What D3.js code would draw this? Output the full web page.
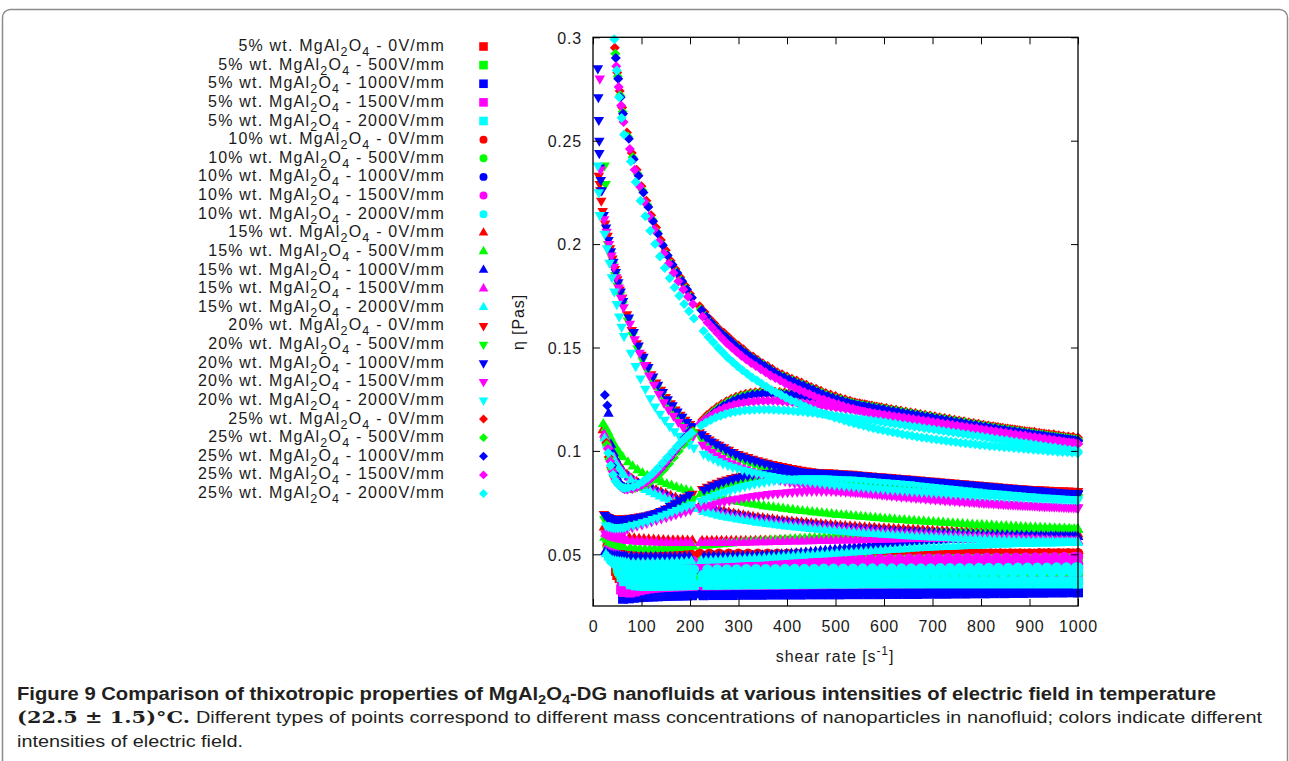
<!DOCTYPE html>
<html>
<head>
<meta charset="utf-8">
<title>Thixotropy of MgAl2O4-DG nanofluids</title>
<script src="https://cdn.jsdelivr.net/npm/d3@7"></script>
<style>
  html, body { margin: 0; padding: 0; background: #fff; }
  svg { display: block; }
  .plotfont { font-family: "Liberation Sans", Arial, Helvetica, sans-serif; fill: #1a1a1a; }
  .caption { font-family: "Liberation Sans Narrow", "Liberation Sans", Arial, sans-serif; fill: #231f20; }
  text { white-space: pre; }
</style>
</head>
<body>
<svg id="figure" width="1289" height="761" xmlns="http://www.w3.org/2000/svg"></svg>
<script>
const _ = null; // no reading at this shear rate

// Shear rates [1/s] logged by the rheometer; one row per field strength (0 ... 2000 V/mm).
// Below 210 1/s every run shares the same logging pattern; above it runs were logged
// either every 20 1/s (coarse) or every 10 1/s (fine).
const lowRateUp = [
  [20,25,30,35,40,45,50,55,60, 70,80,90,100,110,120,130,140,150,160,170,180,190,200],
  [21,26,31,36,41,46,51,56,61, 72,82,92,102,112,122,132,142,152,162,172,182,192,202],
  [22,27,32,37,42,47,52,57,62, 74,84,94,104,114,124,134,144,154,164,174,184,194,204],
  [23,28,33,38,43,48,53,58,63, 76,86,96,106,116,126,136,146,156,166,176,186,196,206],
  [24,29,34,39,44,49,54,59,64, 78,88,98,108,118,128,138,148,158,168,178,188,198,208]
];
const lowRateDown = [
  [22.5,27.5,32.5,37.5,42.5,47.5,52.5,57.5,62.5, 75,85,95,105,115,125,135,145,155,165,175,185,195,205],
  [23.5,28.5,33.5,38.5,43.5,48.5,53.5,58.5,63.5, 77,87,97,107,117,127,137,147,157,167,177,187,197,207],
  [24.5,29.5,34.5,39.5,44.5,49.5,54.5,59.5,64.5, 69,79,89,99,109,119,129,139,149,159,169,179,189,199],
  [25.5,30.5,35.5,40.5,45.5,50.5,55.5,60.5,65.5, 71,81,91,101,111,121,131,141,151,161,171,181,191,201],
  [26.5,31.5,36.5,41.5,46.5,51.5,56.5,61.5,66.5, 73,83,93,103,113,123,133,143,153,163,173,183,193,203]
];
const highRateUpCoarse = [
  [220,240,260,280,300,320,340,360,380,400,420,440,460,480,500,520,540,560,580,600,620,640,660,680,700,720,740,760,780,800,820,840,860,880,900,920,940,960,980,1000],
  [224,244,264,284,304,324,344,364,384,404,424,444,464,484,504,524,544,564,584,604,624,644,664,684,704,724,744,764,784,804,824,844,864,884,904,924,944,964,984,1000],
  [228,248,268,288,308,328,348,368,388,408,428,448,468,488,508,528,548,568,588,608,628,648,668,688,708,728,748,768,788,808,828,848,868,888,908,928,948,968,988,1000],
  [232,252,272,292,312,332,352,372,392,412,432,452,472,492,512,532,552,572,592,612,632,652,672,692,712,732,752,772,792,812,832,852,872,892,912,932,952,972,992,1000],
  [236,256,276,296,316,336,356,376,396,416,436,456,476,496,516,536,556,576,596,616,636,656,676,696,716,736,756,776,796,816,836,856,876,896,916,936,956,976,996,1000]
];
const highRateDownCoarse = [
  [230,250,270,290,310,330,350,370,390,410,430,450,470,490,510,530,550,570,590,610,630,650,670,690,710,730,750,770,790,810,830,850,870,890,910,930,950,970,990,1000],
  [234,254,274,294,314,334,354,374,394,414,434,454,474,494,514,534,554,574,594,614,634,654,674,694,714,734,754,774,794,814,834,854,874,894,914,934,954,974,994,1000],
  [218,238,258,278,298,318,338,358,378,398,418,438,458,478,498,518,538,558,578,598,618,638,658,678,698,718,738,758,778,798,818,838,858,878,898,918,938,958,978,1000],
  [222,242,262,282,302,322,342,362,382,402,422,442,462,482,502,522,542,562,582,602,622,642,662,682,702,722,742,762,782,802,822,842,862,882,902,922,942,962,982,1000],
  [226,246,266,286,306,326,346,366,386,406,426,446,466,486,506,526,546,566,586,606,626,646,666,686,706,726,746,766,786,806,826,846,866,886,906,926,946,966,986,1000]
];
const highRateUpFine = [
  [220,230,240,250,260,270,280,290,300,310, 320,330,340,350,360,370,380,390,400,410, 420,430,440,450,460,470,480,490,500,510,
   520,530,540,550,560,570,580,590,600,610, 620,630,640,650,660,670,680,690,700,710, 720,730,740,750,760,770,780,790,800,810,
   820,830,840,850,860,870,880,890,900,910, 920,930,940,950,960,970,980,990,1000],
  [222,232,242,252,262,272,282,292,302,312, 322,332,342,352,362,372,382,392,402,412, 422,432,442,452,462,472,482,492,502,512,
   522,532,542,552,562,572,582,592,602,612, 622,632,642,652,662,672,682,692,702,712, 722,732,742,752,762,772,782,792,802,812,
   822,832,842,852,862,872,882,892,902,912, 922,932,942,952,962,972,982,992,1000],
  [224,234,244,254,264,274,284,294,304,314, 324,334,344,354,364,374,384,394,404,414, 424,434,444,454,464,474,484,494,504,514,
   524,534,544,554,564,574,584,594,604,614, 624,634,644,654,664,674,684,694,704,714, 724,734,744,754,764,774,784,794,804,814,
   824,834,844,854,864,874,884,894,904,914, 924,934,944,954,964,974,984,994,1000],
  [226,236,246,256,266,276,286,296,306,316, 326,336,346,356,366,376,386,396,406,416, 426,436,446,456,466,476,486,496,506,516,
   526,536,546,556,566,576,586,596,606,616, 626,636,646,656,666,676,686,696,706,716, 726,736,746,756,766,776,786,796,806,816,
   826,836,846,856,866,876,886,896,906,916, 926,936,946,956,966,976,986,996,1000],
  [228,238,248,258,268,278,288,298,308,318, 328,338,348,358,368,378,388,398,408,418, 428,438,448,458,468,478,488,498,508,518,
   528,538,548,558,568,578,588,598,608,618, 628,638,648,658,668,678,688,698,708,718, 728,738,748,758,768,778,788,798,808,818,
   828,838,848,858,868,878,888,898,908,918, 928,938,948,958,968,978,988,998,1000]
];
const highRateDownFine = [
  [225,235,245,255,265,275,285,295,305,315, 325,335,345,355,365,375,385,395,405,415, 425,435,445,455,465,475,485,495,505,515,
   525,535,545,555,565,575,585,595,605,615, 625,635,645,655,665,675,685,695,705,715, 725,735,745,755,765,775,785,795,805,815,
   825,835,845,855,865,875,885,895,905,915, 925,935,945,955,965,975,985,995,1000],
  [227,237,247,257,267,277,287,297,307,317, 327,337,347,357,367,377,387,397,407,417, 427,437,447,457,467,477,487,497,507,517,
   527,537,547,557,567,577,587,597,607,617, 627,637,647,657,667,677,687,697,707,717, 727,737,747,757,767,777,787,797,807,817,
   827,837,847,857,867,877,887,897,907,917, 927,937,947,957,967,977,987,997,1000],
  [229,239,249,259,269,279,289,299,309,319, 329,339,349,359,369,379,389,399,409,419, 429,439,449,459,469,479,489,499,509,519,
   529,539,549,559,569,579,589,599,609,619, 629,639,649,659,669,679,689,699,709,719, 729,739,749,759,769,779,789,799,809,819,
   829,839,849,859,869,879,889,899,909,919, 929,939,949,959,969,979,989,999,1000],
  [221,231,241,251,261,271,281,291,301,311, 321,331,341,351,361,371,381,391,401,411, 421,431,441,451,461,471,481,491,501,511,
   521,531,541,551,561,571,581,591,601,611, 621,631,641,651,661,671,681,691,701,711, 721,731,741,751,761,771,781,791,801,811,
   821,831,841,851,861,871,881,891,901,911, 921,931,941,951,961,971,981,991,1000],
  [223,233,243,253,263,273,283,293,303,313, 323,333,343,353,363,373,383,393,403,413, 423,433,443,453,463,473,483,493,503,513,
   523,533,543,553,563,573,583,593,603,613, 623,633,643,653,663,673,683,693,703,713, 723,733,743,753,763,773,783,793,803,813,
   823,833,843,853,863,873,883,893,903,913, 923,933,943,953,963,973,983,993,1000]
];

const concentrations = ["5%", "10%", "15%", "20%", "25%"];
const fieldStrengths = ["0V/mm", "500V/mm", "1000V/mm", "1500V/mm", "2000V/mm"];
const fieldColors = ["#ff0000", "#00ff00", "#0000ff", "#ff00ff", "#00ffff"];

const xTicks = [0,100,200,300,400,500,600,700,800,900,1000];
const xTickLabels = ["0","100","200","300","400","500","600","700","800","900","1000"];
const yTicks = [0.05,0.1,0.15,0.2,0.25,0.3];
const yTickLabels = ["0.05","0.1","0.15","0.2","0.25","0.3"];

// Viscosity readings in mPa·s, one row per field strength, matching the shear rate rows
const rampUp5 = [
  [_,_,_,_,_,_,40,38.5,37.5, 36.8,36.4,36.2,36.1,36.1,36.1,36.1,36.2,36.2,36.3,36.3,36.4,36.4,36.5,
   36.5,36.6,36.6,36.7,36.7,36.8,36.8,36.9,36.9,37, 37,37.1,37.1,37.2,37.2,37.3,37.3,37.4,37.4,37.5,
   37.5,37.6,37.6,37.7,37.7,37.8,37.8,37.9,37.9,38, 38,38.1,38.1,38.2,38.2,38.3,38.3,38.4,38.4,38.5],
  [_,_,_,_,_,_,43,41,40, 39.5,39.3,39.2,39.1,39.2,39.3,39.2,39.1,39.2,39.3,39.2,39.1,39.2,39.3,
   39.2,39.1,39.2,39.3,39.2,39.1,39.2,39.3,39.2,39.1, 39.2,39.3,39.2,39.1,39.2,39.3,39.2,39.1,39.2,39.1,
   39.1,39,39,38.9,38.9,38.9,38.8,38.8,38.8,38.8, 38.8,38.8,38.8,38.8,38.8,38.8,38.8,38.8,38.8,38.8],
  [_,_,_,_,_,_,_,_,28.5, 28.7,29,29.2,29.4,29.5,29.6,29.7,29.8,29.9,30,30,30.1,30.1,30.2,
   30.2,30.3,30.3,30.3,30.4,30.4,30.4,30.5,30.5,30.5, 30.5,30.6,30.6,30.6,30.6,30.7,30.7,30.7,30.7,30.8,
   30.8,30.8,30.8,30.9,30.9,30.9,31,31,31.1,31.1, 31.2,31.2,31.3,31.3,31.4,31.4,31.5,31.5,31.6,31.6],
  [_,_,_,_,_,_,_,33,31.8, 31.5,32,32.6,33.1,33.5,33.8,34,34.2,34.3,34.4,34.5,34.6,34.7,34.8,
   34.9,35,35,35.1,35.1,35.2,35.2,35.3,35.3,35.4, 35.4,35.5,35.5,35.6,35.6,35.7,35.7,35.8,35.8,35.9,
   35.9,36,36,36.1,36.1,36.2,36.2,36.3,36.3,36.4, 36.4,36.5,36.5,36.6,36.6,36.7,36.7,36.8,36.8,36.9],
  [_,_,_,_,_,_,42,39,37, 35.5,35,34.8,34.7,34.7,34.7,34.8,34.8,34.9,34.9,35,35,35.1,35.1,
   35.2,35.2,35.3,35.3,35.4,35.4,35.5,35.5,35.6,35.6, 35.7,35.7,35.8,35.8,35.8,35.8,35.9,35.9,35.9,35.9,
   35.9,35.9,35.9,35.9,35.9,35.9,35.9,35.9,35.9,35.9, 35.9,35.9,35.9,35.9,35.9,35.9,35.9,35.9,35.9,35.9]
];
const rampDown5 = [
  [_,_,_,_,_,42,40,38.8,38, 37.5,37.2,37.1,37.1,37.1,37.1,37.2,37.2,37.3,37.3,37.4,37.4,37.5,37.5,
   37.6,37.6,37.7,37.7,37.8,37.8,37.9,37.9,38,38, 38.1,38.1,38.2,38.2,38.3,38.3,38.4,38.4,38.5,38.5,
   38.6,38.6,38.7,38.7,38.8,38.8,38.9,38.9,39,39, 39.1,39.1,39.2,39.2,39.3,39.3,39.4,39.4,39.5,39.5],
  [_,_,_,_,_,_,42,40.5,39.5, 39,38.8,38.7,38.6,38.6,38.5,38.6,38.7,38.6,38.5,38.6,38.7,38.6,38.5,
   38.6,38.7,38.6,38.5,38.6,38.7,38.6,38.5,38.6,38.7, 38.6,38.5,38.6,38.7,38.6,38.5,38.6,38.7,38.6,38.5,
   38.6,38.6,38.6,38.6,38.6,38.6,38.6,38.6,38.6,38.6, 38.6,38.6,38.6,38.6,38.6,38.6,38.6,38.6,38.6,38.6],
  [_,_,_,_,_,_,_,_,29.4, 29.6,29.9,30.1,30.3,30.4,30.5,30.6,30.7,30.8,30.9,30.9,31,31,31.1,
   31.1,31.2,31.2,31.2,31.3,31.3,31.3,31.4,31.4,31.4, 31.4,31.5,31.5,31.5,31.5,31.6,31.6,31.6,31.6,31.7,
   31.7,31.7,31.7,31.8,31.8,31.8,31.9,31.9,32,32, 32.1,32.1,32.2,32.2,32.3,32.3,32.4,32.4,32.5,32.5],
  [_,_,_,_,_,_,_,34.5,32.8, 32.2,32.6,33,33.4,33.8,34.1,34.3,34.5,34.6,34.7,34.8,34.9,35,35.1,
   35.2,35.3,35.3,35.4,35.4,35.5,35.5,35.6,35.6,35.7, 35.7,35.8,35.8,35.9,35.9,36,36,36.1,36.1,36.2,
   36.2,36.3,36.3,36.4,36.4,36.5,36.5,36.6,36.6,36.7, 36.7,36.8,36.8,36.9,36.9,36.9,36.9,36.9,36.9,36.9],
  [_,_,_,_,_,44,41.5,39.5,38, 37,36.6,36.4,36.3,36.3,36.3,36.3,36.4,36.4,36.4,36.5,36.5,36.5,36.6,
   36.6,36.6,36.6,36.7,36.7,36.7,36.7,36.8,36.8,36.8, 36.8,36.9,36.9,36.9,36.9,36.9,36.9,36.9,36.9,36.9,
   36.9,36.9,36.9,36.9,36.9,36.9,36.9,36.9,36.9,36.9, 36.9,36.9,36.9,36.9,36.9,36.9,36.9,36.9,36.9,36.9]
];

const rampUp10 = [
  [_,_,54,53.3,52.7,52.3,52,51.7,51.5, 51.2,51,50.8,50.7,50.6,50.5,50.5,50.4,50.4,50.4,50.4,50.4,50.4,50.4,
   50.3,50.3,50.3,50.3,50.3,50.3,50.3,50.3,50.3,50.3, 50.3,50.3,50.3,50.3,50.3,50.3,50.4,50.4,50.4,50.4,
   50.4,50.4,50.4,50.4,50.4,50.4,50.4,50.4,50.4,50.4, 50.4,50.4,50.4,50.4,50.4,50.5,50.5,50.5,50.5,50.5],
  [_,_,53,52,51,50.2,49.6,49.1,48.7, 48.1,47.7,47.4,47.2,47,46.9,46.8,46.7,46.7,46.7,46.7,46.7,46.7,46.7,
   46.7,46.7,46.8,46.8,46.8,46.9,46.9,46.9,47,47, 47,47.1,47.1,47.1,47.2,47.2,47.2,47.3,47.3,47.3,
   47.4,47.4,47.4,47.5,47.5,47.5,47.6,47.6,47.6,47.7, 47.7,47.7,47.8,47.8,47.8,47.9,47.9,47.9,48,48],
  [_,_,51,49.8,48.8,48,47.3,46.7,46.2, 45.5,45,44.7,44.5,44.3,44.2,44.1,44,44,44,44,44,44,44,
   44,44,44,44,44.1,44.1,44.1,44.1,44.2,44.2, 44.2,44.2,44.3,44.3,44.3,44.3,44.4,44.4,44.4,44.4,
   44.5,44.5,44.5,44.5,44.6,44.6,44.6,44.6,44.7,44.7, 44.7,44.7,44.8,44.8,44.8,44.8,44.9,44.9,44.9,44.9],
  [_,_,53,51.8,50.8,50,49.3,48.8,48.4, 47.8,47.4,47.2,47,46.9,46.8,46.8,46.8,46.8,46.8,46.8,46.8,46.8,46.8,
   46.8,46.9,46.9,47,47,47.1,47.1,47.2,47.2,47.3, 47.3,47.4,47.4,47.5,47.5,47.6,47.6,47.7,47.7,47.8,
   47.8,47.9,47.9,48,48,48.1,48.1,48.2,48.2,48.3, 48.3,48.4,48.4,48.5,48.5,48.6,48.6,48.7,48.7,48.8],
  [_,_,49.2,48.1,47.2,46.4,45.8,45.3,44.9, 44.2,43.7,43.4,43.2,43,42.9,42.8,42.7,42.7,42.7,42.7,42.7,42.7,42.7,
   42.7,42.7,42.7,42.7,42.8,42.8,42.8,42.8,42.9,42.9, 42.9,42.9,43,43,43,43,43.1,43.1,43.1,43.1,
   43.2,43.2,43.2,43.2,43.3,43.3,43.3,43.3,43.4,43.4, 43.4,43.4,43.5,43.5,43.5,43.5,43.6,43.6,43.6,43.6]
];
const rampDown10 = [
  [_,_,52.2,51.6,51.1,50.7,50.4,50.1,49.9, 49.6,49.4,49.3,49.2,49.1,49.1,49.1,49.1,49.1,49.1,49.1,49.1,49.2,49.2,
   49.2,49.3,49.3,49.4,49.4,49.5,49.5,49.6,49.6,49.7, 49.7,49.8,49.8,49.9,49.9,50,50,50,50.1,50.1,
   50.1,50.1,50.2,50.2,50.2,50.2,50.2,50.3,50.3,50.3, 50.3,50.3,50.3,50.3,50.3,50.4,50.4,50.4,50.4,50.4],
  [_,_,51,50,49.2,48.5,47.9,47.4,47, 46.4,46,45.7,45.5,45.3,45.2,45.1,45,45,45,45,45,45,45,
   45,45,45,45.1,45.1,45.1,45.2,45.2,45.2,45.3, 45.3,45.3,45.4,45.4,45.4,45.5,45.5,45.5,45.6,45.6,
   45.6,45.7,45.7,45.7,45.8,45.8,45.8,45.9,45.9,45.9, 46,46,46,46.1,46.1,46.1,46.2,46.2,46.2,46.3],
  [_,_,49.2,48.2,47.4,46.7,46.1,45.6,45.2, 44.5,44,43.7,43.5,43.3,43.2,43.1,43,43,43,43,43,43,43,
   43,43,43,43,43.1,43.1,43.1,43.1,43.2,43.2, 43.2,43.2,43.3,43.3,43.3,43.3,43.4,43.4,43.4,43.4,
   43.5,43.5,43.5,43.5,43.6,43.6,43.6,43.6,43.7,43.7, 43.7,43.7,43.8,43.8,43.8,43.8,43.9,43.9,43.9,43.9],
  [_,_,50.2,49.2,48.4,47.7,47.1,46.6,46.2, 45.6,45.2,44.9,44.7,44.6,44.5,44.4,44.4,44.4,44.4,44.4,44.4,44.4,44.4,
   44.4,44.4,44.4,44.4,44.5,44.5,44.5,44.5,44.6,44.6, 44.6,44.6,44.7,44.7,44.7,44.7,44.8,44.8,44.8,44.8,
   44.9,44.9,44.9,44.9,45,45,45,45,45.1,45.1, 45.1,45.1,45.2,45.2,45.2,45.2,45.3,45.3,45.3,45.3],
  [_,_,47.2,46.1,45.2,44.4,43.7,43.1,42.6, 41.8,41.2,40.8,40.5,40.3,40.1,40,39.9,39.9,39.9,39.9,39.9,39.9,39.9,
   39.9,39.9,40,40,40,40.1,40.1,40.1,40.2,40.2, 40.2,40.3,40.3,40.3,40.4,40.4,40.4,40.5,40.5,40.5,
   40.6,40.6,40.7,40.7,40.8,40.8,40.9,40.9,41,41, 41.1,41.1,41.2,41.2,41.3,41.3,41.4,41.4,41.5,41.5]
];

const rampUp15 = [
  [110,107,104,101,98.5,96.2,94.2,92.5,91, 88.5,86.5,85,83.8,82.8,81.9,81,80.1,79.2,78.3,77.4,76.6,75.8,75,
   73.6,72.9,72.3,71.7,71.2,70.7,70.2,69.7,69.3,68.9, 68.5,68.1,67.8,67.5,67.2,66.9,66.6,66.3,66.1,65.8,
   65.6,65.4,65.2,65,64.8,64.6,64.4,64.2,64,63.8, 63.7,63.5,63.4,63.2,63.1,62.9,62.8,62.6,62.5,62.4,
   62.3,62.2,62.1,62,61.9,61.8,61.7,61.6,61.5,61.4, 61.3,61.2,61.1,61,60.9,60.85,60.8,60.75,60.7,60.65,
   60.6,60.55,60.5,60.45,60.4,60.35,60.3,60.25,60.2,60.15, 60.1,60.05,60,59.95,59.9,59.85,59.8,59.75, 59.7],
  [113,111,109,106.5,104,102,100,98.5,97, 94.5,92.5,90.7,89.3,88,86.8,85.8,84.8,84,83.2,82.4,81.7,81,80.4,
   79.2,78.6,78.1,77.6,77.1,76.6,76.2,75.7,75.3,74.9, 74.5,74.1,73.7,73.3,73,72.7,72.4,72.1,71.8,71.5,
   71.2,70.9,70.7,70.4,70.2,69.9,69.7,69.4,69.2,69, 68.8,68.6,68.4,68.2,68,67.8,67.6,67.4,67.2,67,
   66.8,66.6,66.5,66.3,66.2,66,65.9,65.7,65.6,65.4, 65.3,65.1,65,64.8,64.7,64.5,64.4,64.3,64.2,64.1,
   64,63.8,63.7,63.6,63.5,63.4,63.3,63.2,63.1,63, 62.9,62.8,62.7,62.6,62.5,62.4,62.3,62.2, 62.1],
  [_,_,118,103,99,96,93.5,91.5,90, 87.5,85.5,84.2,83,82,81,80,79,78,77,76.1,75.3,74.5,73.8,
   72.5,71.9,71.3,70.7,70.2,69.7,69.2,68.8,68.4,68, 67.6,67.2,66.9,66.6,66.3,66,65.7,65.4,65.2,64.9,
   64.7,64.4,64.2,64,63.8,63.6,63.4,63.2,63,62.8, 62.6,62.4,62.3,62.1,62,61.8,61.7,61.5,61.4,61.2,
   61.1,61,60.9,60.8,60.7,60.6,60.5,60.4,60.3,60.2, 60.1,60,59.9,59.8,59.7,59.6,59.5,59.45,59.4,59.35,
   59.3,59.25,59.2,59.15,59.1,59.05,59,58.95,58.9,58.85, 58.8,58.75,58.7,58.65,58.6,58.55,58.5,58.45, 58.4],
  [108,105,102,99,96.5,94.3,92.4,90.8,89.4, 87,85,83.5,82.2,81.1,80.1,79.1,78.1,77.1,76.2,75.3,74.5,73.7,73,
   71.6,71,70.4,69.8,69.3,68.8,68.3,67.9,67.5,67.1, 66.7,66.3,66,65.7,65.4,65.1,64.8,64.5,64.3,64,
   63.8,63.5,63.3,63.1,62.9,62.7,62.5,62.3,62.1,61.9, 61.7,61.5,61.4,61.2,61.1,60.9,60.8,60.6,60.5,60.3,
   60.2,60,59.9,59.8,59.7,59.6,59.5,59.4,59.3,59.2, 59.1,59,58.9,58.8,58.7,58.6,58.5,58.4,58.3,58.2,
   58.1,58,57.9,57.8,57.7,57.6,57.5,57.4,57.3,57.2, 57.1,57,56.9,56.8,56.7,56.6,56.5,56.4, 56.3],
  [106,103,100,97.5,95,93,91.2,89.6,88.2, 85.8,83.9,82.4,81.1,80,79,78,77,76,75.1,74.2,73.4,72.6,71.9,
   70.5,69.9,69.3,68.7,68.2,67.7,67.3,66.9,66.5,66.1, 65.7,65.3,65,64.7,64.4,64.1,63.8,63.5,63.3,63,
   62.8,62.5,62.3,62.1,61.9,61.7,61.5,61.3,61.1,60.9, 60.7,60.5,60.3,60.1,60,59.8,59.7,59.5,59.4,59.2,
   59.1,58.9,58.8,58.6,58.5,58.4,58.3,58.2,58.1,58, 57.9,57.8,57.7,57.6,57.5,57.4,57.3,57.2,57.1,57,
   56.9,56.8,56.7,56.6,56.5,56.4,56.3,56.25,56.2,56.15, 56.1,56.05,56,55.95,55.9,55.85,55.8,55.75, 55.7]
];
const rampDown15 = [
  [63,62,61,60.2,59.6,59.1,58.7,58.4,58.2, 57.9,57.7,57.5,57.3,57.2,57.1,57,56.9,56.8,56.8,56.7,56.7,56.6,56.6,
   56.5,56.5,56.5,56.5,56.5,56.5,56.5,56.5,56.5,56.5, 56.5,56.5,56.6,56.6,56.6,56.6,56.7,56.7,56.7,56.7,
   56.8,56.85,56.9,56.95,57,57.05,57.1,57.15,57.2,57.25, 57.3,57.35,57.4,57.45,57.5,57.55,57.6,57.65,57.7,57.75,
   57.8,57.85,57.9,57.95,58,58.05,58.1,58.15,58.2,58.25, 58.3,58.35,58.4,58.45,58.5,58.55,58.6,58.65,58.7,58.75,
   58.8,58.85,58.9,58.95,59,59.05,59.1,59.15,59.2,59.25, 59.3,59.35,59.4,59.45,59.5,59.55,59.6,59.65, 59.7],
  [58,57,56,55.3,54.8,54.4,54,53.7,53.5, 53.1,52.8,52.6,52.5,52.5,52.5,52.6,52.7,52.8,53,53.1,53.3,53.5,53.7,
   54.1,54.3,54.5,54.7,54.9,55.1,55.3,55.5,55.7,55.85, 56,56.15,56.3,56.45,56.6,56.75,56.9,57.05,57.2,57.35,
   57.5,57.65,57.8,57.9,58,58.1,58.2,58.3,58.4,58.5, 58.6,58.7,58.8,58.9,59,59.1,59.2,59.25,59.3,59.4,
   59.5,59.55,59.6,59.7,59.8,59.85,59.9,60,60.1,60.15, 60.2,60.25,60.3,60.4,60.5,60.55,60.6,60.65,60.7,60.75,
   60.8,60.9,61,61.05,61.1,61.15,61.2,61.25,61.3,61.35, 61.4,61.45,61.5,61.55,61.6,61.65,61.7,61.75, 61.8],
  [51,50.3,49.8,49.5,49.3,49.2,49.1,49,49, 48.9,48.9,48.8,48.8,48.8,48.8,48.8,48.8,48.8,48.8,48.8,48.8,48.9,48.9,
   48.9,48.95,49,49,49,49.05,49.1,49.15,49.2,49.25, 49.3,49.4,49.5,49.6,49.7,49.85,50,50.15,50.3,50.5,
   50.7,50.9,51.1,51.3,51.5,51.75,52,52.25,52.5,52.75, 53,53.25,53.5,53.75,54,54.25,54.5,54.7,54.9,55.1,
   55.3,55.5,55.7,55.85,56,56.15,56.3,56.45,56.6,56.75, 56.9,57,57.1,57.2,57.3,57.4,57.5,57.55,57.6,57.65,
   57.7,57.75,57.8,57.85,57.9,57.95,58,58.05,58.1,58.15, 58.2,58.25,58.3,58.3,58.3,58.35,58.4,58.4, 58.4],
  [60,59.3,58.7,58.2,57.8,57.5,57.2,57,56.8, 56.5,56.3,56.1,56,55.9,55.8,55.7,55.6,55.6,55.5,55.5,55.5,55.5,55.5,
   55.5,55.5,55.5,55.5,55.5,55.55,55.6,55.6,55.6,55.65, 55.7,55.75,55.8,55.85,55.9,55.95,56,56.05,56.1,56.15,
   56.2,56.25,56.3,56.35,56.4,56.45,56.5,56.55,56.6,56.65, 56.7,56.75,56.8,56.85,56.9,56.95,57,57.05,57.1,57.15,
   57.2,57.25,57.3,57.35,57.4,57.4,57.4,57.4,57.4,57.4, 57.4,57.35,57.3,57.25,57.2,57.15,57.1,57.05,57,56.95,
   56.9,56.85,56.8,56.75,56.7,56.65,56.6,56.55,56.5,56.45, 56.4,56.35,56.3,56.25,56.2,56.2,56.2,56.2, 56.2],
  [50,48.5,47.5,47,46.7,46.5,46.3,46.2,46.1, 46,45.9,45.9,45.9,45.9,46,46,46.1,46.1,46.2,46.3,46.4,46.5,46.6,
   46.8,46.9,47,47.1,47.2,47.3,47.4,47.5,47.6,47.7, 47.8,47.9,48,48.15,48.3,48.45,48.6,48.75,48.9,49.05,
   49.2,49.35,49.5,49.65,49.8,49.95,50.1,50.25,50.4,50.55, 50.7,50.85,51,51.15,51.3,51.45,51.6,51.75,51.9,52.05,
   52.2,52.35,52.5,52.65,52.8,52.95,53.1,53.2,53.3,53.4, 53.5,53.6,53.7,53.8,53.9,54,54.1,54.2,54.3,54.4,
   54.5,54.6,54.7,54.8,54.9,54.95,55,55.05,55.1,55.15, 55.2,55.25,55.3,55.35,55.4,55.45,55.5,55.55, 55.6]
];

// First readings of the 20% runs, logged below 20 1/s: [shear rate, viscosity mPa·s]
const startUp20 = [
  [[12,233],[14,229],[15,226],[17,221]],
  [[24,238],[26,229]],
  [[10,285],[11,271],[12,260],[13,250],[13,244],[14,237],[16,231],[18,226]],
  [[14,280],[16,236]],
  [[10,238],[12,225],[14,214]]
];
const rampUp20 = [
  [216,210,204,198,193,188,183,178,174, 166,158.5,152,146.5,141.5,137,133,129.5,126,123,120,117.5,115,113,
   109,107.2,105.5,104.2,103,101.7,100.5,99.5,98.5,97.7, 97,96.2,95.5,94.9,94.3,93.7,93.2,92.7,92.2,91.7,
   91.3,90.9,90.5,90.1,89.8,89.4,89.1,88.8,88.5,88.2, 87.9,87.6,87.4,87.1,86.9,86.6,86.4,86.2,86,85.8,
   85.6,85.4,85.2,85,84.8,84.6,84.4,84.2,84.1,83.9, 83.8,83.6,83.5,83.3,83.2,83,82.9,82.7,82.6,82.5,
   82.4,82.3,82.2,82.1,82,81.9,81.8,81.7,81.6,81.5, 81.4,81.3,81.2,81.1,81,80.9,80.8,80.7, 80.6],
  [_,_,200,195,190,185,180,175.5,171, 163,156,149.5,144,139,134.5,130.5,127,123.5,120.5,117.5,115,112.5,110.5,
   106.5,104.7,103,101.6,100.3,99.1,98,97,96,95.1, 94.3,93.5,92.8,92.1,91.5,90.9,90.4,89.9,89.4,88.9,
   88.5,88.1,87.7,87.3,87,86.6,86.3,86,85.7,85.4, 85.1,84.8,84.6,84.3,84.1,83.8,83.6,83.4,83.2,83,
   82.8,82.6,82.4,82.2,82,81.8,81.6,81.4,81.3,81.1, 81,80.8,80.7,80.5,80.4,80.2,80.1,79.9,79.8,79.6,
   79.5,79.4,79.3,79.2,79.1,79,78.9,78.8,78.7,78.6, 78.5,78.4,78.3,78.2,78.1,78,77.9,77.8, 77.7],
  [214,208,202,196.5,191.5,186.5,181.5,177,172.5, 164.5,157.5,151,145.5,140.5,136,132,128.5,125,122,119,116.5,114,112,
   108,106.2,104.5,103.2,102,100.7,99.5,98.5,97.5,96.7, 96,95.2,94.5,93.9,93.3,92.7,92.2,91.7,91.2,90.7,
   90.3,89.9,89.5,89.1,88.8,88.4,88.1,87.8,87.5,87.2, 86.9,86.6,86.4,86.1,85.9,85.6,85.4,85.2,85,84.8,
   84.6,84.4,84.2,84,83.8,83.6,83.4,83.2,83.1,82.9, 82.8,82.6,82.5,82.3,82.2,82,81.9,81.7,81.6,81.4,
   81.3,81.1,81,80.8,80.7,80.5,80.4,80.3,80.2,80.1, 80,79.9,79.8,79.7,79.6,79.5,79.4,79.3, 79.2],
  [212,206,200,194.5,189,184,179,174,169.5, 161.5,154,147.5,141.5,136.5,132,127.5,123.5,120,117,114,111.5,109,107,
   103,101.2,99.5,97.9,96.5,95.2,94,93,92,91.1, 90.2,89.4,88.6,87.9,87.2,86.6,86,85.5,85,84.5,
   84.1,83.7,83.3,82.9,82.6,82.2,81.9,81.6,81.3,81, 80.7,80.4,80.1,79.8,79.6,79.3,79.1,78.8,78.6,78.3,
   78.1,77.9,77.7,77.5,77.3,77.1,76.9,76.7,76.5,76.3, 76.1,75.9,75.8,75.6,75.5,75.3,75.2,75,74.9,74.7,
   74.6,74.4,74.3,74.1,74,73.9,73.8,73.7,73.6,73.5, 73.4,73.3,73.2,73.1,73,72.9,72.8,72.7, 72.6],
  [205,198,191,184,177,171,165,160,155.5, 147.5,141,135,130,125.5,121.5,118,115,112,109.5,107.3,105.2,103.3,101.6,
   98.6,97.3,96.1,95,94,93.1,92.3,91.6,90.9,90.3, 89.7,89.2,88.7,88.2,87.8,87.4,87,86.6,86.3,85.9,
   85.6,85.3,85,84.7,84.4,84.1,83.9,83.6,83.4,83.1, 82.9,82.7,82.5,82.3,82.1,81.9,81.7,81.5,81.3,81.1,
   81,80.8,80.6,80.4,80.3,80.1,80,79.8,79.7,79.5, 79.4,79.2,79.1,78.9,78.8,78.6,78.5,78.4,78.3,78.2,
   78.1,78,77.9,77.8,77.7,77.6,77.5,77.4,77.3,77.2, 77.1,77,76.9,76.8,76.7,76.6,76.5,76.4, 76.3]
];
const rampDown20 = [
  [69.5,68.5,68,67.5,67.3,67.2,67.2,67.3,67.4, 67.6,67.9,68.2,68.6,69.1,69.7,70.4,71.3,72.4,73.7,75.1,76.5,77.9,79.2,
   81.6,82.7,83.7,84.6,85.5,86.2,86.9,87.5,88,88.4, 88.8,89.1,89.4,89.6,89.8,89.9,90,90.1,90.1,90.1,
   90.1,90.1,90,89.9,89.8,89.7,89.6,89.5,89.3,89.2, 89,88.9,88.7,88.5,88.3,88.1,87.9,87.7,87.5,87.3,
   87.1,86.9,86.7,86.5,86.3,86.1,85.9,85.7,85.5,85.3, 85.1,84.9,84.7,84.5,84.3,84.1,83.9,83.7,83.5,83.3,
   83.1,82.9,82.7,82.5,82.3,82.1,81.9,81.7,81.5,81.3, 81.1,80.9,80.7,80.5,80.3,80.2,80,79.9, 79.7],
  [67,66.5,66,65.7,65.5,65.4,65.4,65.5,65.6, 65.8,66.1,66.5,67,67.6,68.3,69.1,70,71,72.1,73.3,74.5,75.7,76.9,
   79.1,80.1,81.1,82,82.8,83.5,84.2,84.8,85.3,85.8, 86.2,86.5,86.8,87.1,87.3,87.5,87.6,87.7,87.8,87.9,
   87.9,87.9,87.9,87.9,87.8,87.7,87.6,87.5,87.4,87.3, 87.1,87,86.8,86.7,86.5,86.3,86.1,85.9,85.7,85.5,
   85.3,85.1,84.9,84.7,84.5,84.3,84.1,83.9,83.7,83.5, 83.3,83.1,82.9,82.7,82.5,82.3,82.1,81.9,81.7,81.5,
   81.3,81.1,80.9,80.7,80.5,80.3,80.1,79.9,79.7,79.5, 79.3,79.1,78.9,78.7,78.5,78.3,78.1,77.9, 77.7],
  [69,68,67.5,67,66.8,66.8,66.8,66.9,67, 67.2,67.5,67.8,68.2,68.7,69.3,70,70.9,72,73.3,74.7,76.1,77.5,78.8,
   81.2,82.3,83.3,84.2,85.1,85.8,86.5,87.1,87.6,88, 88.4,88.7,89,89.2,89.4,89.5,89.6,89.7,89.7,89.7,
   89.7,89.7,89.6,89.5,89.4,89.3,89.2,89.1,88.9,88.8, 88.6,88.5,88.3,88.1,87.9,87.7,87.5,87.3,87.1,86.9,
   86.7,86.5,86.3,86.1,85.9,85.7,85.5,85.3,85.1,84.9, 84.7,84.5,84.3,84.1,83.9,83.7,83.5,83.3,83.1,82.9,
   82.7,82.5,82.3,82.1,81.9,81.7,81.5,81.3,81.1,80.9, 80.7,80.5,80.3,80.1,79.9,79.8,79.6,79.5, 79.3],
  [60,59.5,59.5,59.7,60,60.4,60.8,61.2,61.6, 62.4,63.1,63.8,64.5,65.2,65.9,66.6,67.3,68,68.7,69.4,70.1,70.8,71.5,
   72.8,73.4,74,74.6,75.1,75.6,76.1,76.6,77,77.4, 77.8,78.2,78.5,78.8,79.1,79.4,79.6,79.8,80,80.2,
   80.3,80.4,80.5,80.6,80.6,80.6,80.6,80.6,80.5,80.4, 80.3,80.2,80.1,80,79.8,79.7,79.5,79.4,79.2,79,
   78.8,78.6,78.4,78.2,78,77.8,77.6,77.4,77.2,77, 76.8,76.6,76.4,76.2,76,75.8,75.6,75.4,75.2,75,
   74.8,74.7,74.5,74.4,74.2,74.1,73.9,73.8,73.6,73.5, 73.3,73.2,73.1,73,72.9,72.8,72.7,72.65, 72.6],
  [64,63.5,63.2,63,62.9,62.9,63,63.1,63.3, 63.7,64.2,64.8,65.5,66.2,67,67.8,68.7,69.6,70.5,71.4,72.3,73.2,74.1,
   75.9,76.8,77.7,78.6,79.4,80.2,81,81.7,82.4,83, 83.6,84.1,84.6,85,85.4,85.7,86,86.2,86.4,86.5,
   86.6,86.7,86.7,86.7,86.7,86.7,86.6,86.5,86.4,86.3, 86.2,86.1,85.9,85.8,85.6,85.4,85.2,85,84.8,84.6,
   84.4,84.2,84,83.8,83.5,83.3,83,82.8,82.5,82.3, 82,81.8,81.5,81.3,81,80.8,80.5,80.3,80,79.8,
   79.6,79.4,79.2,79,78.8,78.6,78.4,78.2,78,77.8, 77.6,77.5,77.3,77.2,77,76.9,76.7,76.6, 76.4]
];

const rampUp25 = [
  [_,_,_,_,_,295,283,274,266, 254,244,236,228,221,214,208,202,197,192,188,184,180,176,
   170,167.2,164,161.6,159,157.1,155,152.8,151,149.1, 147,145.6,144,142.4,141,139.6,138,137.1,136,134.9,
   134,133.1,132,130.9,130,129.1,128,127.3,126.5,125.6, 125,124.3,123.5,123.1,122.5,121.9,121.5,121.1,120.5,119.9,
   119.5,119.1,118.5,117.9,117.5,117.2,116.7,116.2,116,115.7, 115.2,114.8,114.5,114.2,113.8,113.3,113.1,112.8,112.4,112,
   111.8,111.6,111.2,110.8,110.6,110.4,110,109.6,109.4,109.2, 108.8,108.4,108.2,108,107.6,107.2,107,106.8, 106.5],
  [_,_,_,_,_,292,281,272,264, 252,242,234,226,219,212,206,200,195,190.5,186.5,182.5,178.5,174.5,
   168.5,165.4,162.5,160,157.5,155.6,153.5,151.4,149.5,147.8, 146,144.4,143,141.6,140,138.4,137,136.1,135,134,
   133,132.1,131,130,129,128.1,127,126.2,125.5,124.8, 124,123.3,122.5,122,121.5,121.1,120.5,120,119.5,119,
   118.5,118,117.5,117,116.5,116.1,115.7,115.4,115,114.6, 114.2,113.8,113.5,113.2,112.8,112.4,112.1,111.8,111.4,111.1,
   110.8,110.5,110.2,109.9,109.6,109.3,109,108.7,108.4,108.1, 107.8,107.5,107.2,106.9,106.6,106.3,106,105.7, 105.5],
  [_,_,_,_,_,290,280,271,263, 251,241,233,225,218,211,205,199.5,194.5,190,186,182,178,174,
   168,164.9,162,159.4,157,155.1,153,150.9,149,147.3, 145.5,144.1,142.5,141,139.5,138,136.5,135.6,134.5,133.6,
   132.5,131.6,130.5,129.6,128.5,127.4,126.5,125.7,125,124.3, 123.5,122.7,122,121.5,121,120.5,120,119.5,119,118.5,
   118,117.5,117,116.5,116,115.6,115.2,114.9,114.5,114.1, 113.7,113.4,113,112.6,112.3,112,111.6,111.2,110.9,110.6,
   110.3,110,109.7,109.4,109.1,108.8,108.5,108.2,107.9,107.6, 107.3,107,106.7,106.4,106.1,105.8,105.5,105.2, 105],
  [_,_,_,_,_,286,276,267,259, 246,236,228,220.5,213.5,207,201,195.5,190.5,186,182,178,174.5,171,
   165,162.1,159.5,157,154.5,152.1,150,148,146,144.2, 142.5,141,139.5,138,136.5,135.3,134,132.7,131.5,130.5,
   129.5,128.5,127.5,126.4,125.5,124.8,124,123.2,122.5,121.7, 121,120.4,119.7,119.1,118.5,117.9,117.4,116.9,116.4,115.9,
   115.4,114.9,114.5,114,113.6,113.2,112.8,112.4,112,111.6, 111.3,111,110.6,110.2,109.9,109.6,109.3,109,108.7,108.4,
   108.1,107.8,107.5,107.2,106.9,106.6,106.3,106,105.8,105.5, 105.3,105,104.8,104.5,104.3,104,103.8,103.5, 103.3],
  [_,_,_,_,299,284,271,261,253, 240,230,221,213.5,206.5,200,194,188.5,183.5,179,175,171,167.5,164,
   158,155.1,152.5,149.9,147.5,145.1,143,140.9,139,137.3, 135.5,134,132.5,131,129.5,128.2,127,125.7,124.5,123.5,
   122.5,121.5,120.5,119.5,118.5,117.8,117,116.2,115.5,114.7, 114,113.4,112.8,112.2,111.6,111,110.5,110,109.5,109,
   108.6,108.1,107.7,107.3,106.9,106.5,106.2,105.8,105.5,105.2, 104.9,104.6,104.3,104,103.7,103.4,103.2,102.9,102.7,102.4,
   102.2,102,101.8,101.6,101.4,101.2,101,100.8,100.6,100.4, 100.2,100,99.8,99.6,99.5,99.3,99.2,99.1, 99]
];
const rampDown25 = [
  [_,104,97,92,88,85.5,84,83,82.5, 82.3,82.5,83.2,84.2,85.5,87.2,89.2,91.6,94.3,97.3,100.4,103.6,106.8,109.8,
   115,117.3,119.3,121.1,122.7,124,125.2,126.2,127,127.6, 128.1,128.4,128.6,128.7,128.7,128.6,128.5,128.3,128.1,127.9,
   127.6,127.3,127,126.7,126.3,125.9,125.5,125.1,124.7,124.3, 123.9,123.5,123.1,122.7,122.3,121.9,121.5,121.1,120.7,120.3,
   119.9,119.5,119.1,118.7,118.3,117.9,117.5,117.1,116.7,116.3, 115.9,115.5,115.1,114.7,114.3,113.9,113.5,113.1,112.7,112.3,
   111.9,111.5,111.2,110.8,110.5,110.1,109.8,109.4,109.1,108.7, 108.4,108,107.7,107.3,107,106.6,106.3,105.9, 105.6],
  [_,103,96,91,87.5,85,83.5,82.5,82, 81.8,82,82.7,83.7,85,86.7,88.7,91.1,93.8,96.8,99.9,103.1,106.3,109.3,
   114.5,116.8,118.8,120.6,122.2,123.5,124.7,125.7,126.5,127.1, 127.6,127.9,128.1,128.2,128.2,128.1,128,127.8,127.6,127.4,
   127.1,126.8,126.5,126.2,125.8,125.4,125,124.6,124.2,123.8, 123.4,123,122.6,122.2,121.8,121.4,121,120.6,120.2,119.8,
   119.4,119,118.6,118.2,117.8,117.4,117,116.6,116.2,115.8, 115.4,115,114.6,114.2,113.8,113.4,113,112.6,112.2,111.8,
   111.4,111,110.7,110.3,110,109.6,109.3,108.9,108.6,108.2, 107.9,107.5,107.2,106.8,106.5,106.1,105.8,105.4, 105.1],
  [127,122,100,93,89,86.3,84.5,83.3,82.6, 82.2,82.3,82.9,83.8,85.1,86.8,88.8,91.2,93.9,96.9,100,103.2,106.4,109.4,
   114.3,116.5,118.5,120.3,121.8,123.1,124.3,125.2,126,126.6, 127.1,127.4,127.6,127.7,127.7,127.6,127.5,127.3,127.1,126.9,
   126.6,126.3,126,125.7,125.3,124.9,124.5,124.1,123.7,123.3, 122.9,122.5,122.1,121.7,121.3,120.9,120.5,120.1,119.7,119.3,
   118.9,118.5,118.1,117.7,117.3,116.9,116.5,116.1,115.7,115.3, 114.9,114.5,114.1,113.7,113.3,112.9,112.5,112.1,111.7,111.3,
   110.9,110.5,110.2,109.8,109.5,109.1,108.8,108.4,108.1,107.7, 107.4,107,106.7,106.3,106,105.6,105.3,104.9, 104.6],
  [_,101,95,90,86.5,84.5,83,82,81.5, 81.3,81.6,82.4,83.6,85.1,87,89.3,91.9,94.7,97.7,100.7,103.6,106.3,108.8,
   113.2,115.1,116.8,118.3,119.6,120.7,121.6,122.3,122.9,123.3, 123.7,123.9,124.1,124.2,124.2,124.2,124.1,124,123.8,123.6,
   123.4,123.2,122.9,122.6,122.3,122,121.7,121.4,121,120.7, 120.3,120,119.6,119.3,118.9,118.6,118.2,117.9,117.5,117.2,
   116.8,116.5,116.1,115.8,115.4,115.1,114.7,114.4,114,113.7, 113.3,113,112.6,112.3,111.9,111.6,111.2,110.9,110.5,110.2,
   109.8,109.5,109.1,108.8,108.4,108.1,107.7,107.4,107,106.7, 106.3,106,105.6,105.3,104.9,104.6,104.2,103.9, 103.5],
  [_,99,93,88.5,85.5,83.8,82.8,82.2,82, 82.2,82.8,83.8,85.2,87,89.1,91.5,94.1,96.8,99.5,102.1,104.5,106.7,108.7,
   112.2,113.7,115,116.1,117,117.8,118.4,118.9,119.3,119.6, 119.8,119.9,120,120,120,119.9,119.8,119.7,119.5,119.3,
   119.1,118.9,118.6,118.4,118.1,117.8,117.5,117.2,116.9,116.6, 116.3,116,115.7,115.4,115.1,114.8,114.5,114.2,113.8,113.5,
   113.1,112.8,112.4,112.1,111.7,111.4,111,110.7,110.3,110, 109.6,109.3,108.9,108.6,108.2,107.9,107.5,107.2,106.8,106.5,
   106.1,105.8,105.4,105.1,104.7,104.4,104,103.7,103.3,103, 102.6,102.3,101.9,101.6,101.2,100.9,100.5,100.2, 99.8]
];

const rampsUp = [rampUp5, rampUp10, rampUp15, rampUp20, rampUp25];
const rampsDown = [rampDown5, rampDown10, rampDown15, rampDown20, rampDown25];
const earlyReadings = [null, null, null, startUp20, null];

// ---------------------------------------------------------------- drawing
const svg = d3.select("#figure");
const plotFont = '"Liberation Sans", Arial, Helvetica, sans-serif';

const x = d3.scaleLinear().domain([0, 1000]).range([593, 1078]);
const y = d3.scaleLinear().domain([0.025, 0.3]).range([606, 37.3]);

// Marker per concentration: square, circle, triangle, inverted triangle, diamond
const plotMarkers = [
  d3.symbol(d3.symbolSquare, 100)(),
  d3.symbol(d3.symbolCircle, 85)(),
  d3.symbol(d3.symbolTriangle, 48)(),
  d3.symbol(d3.symbolTriangle, 48)(),
  d3.symbol(d3.symbolSquare, 50)()
];
const keyMarkers = [
  d3.symbol(d3.symbolSquare, 74)(),
  d3.symbol(d3.symbolCircle, 50)(),
  d3.symbol(d3.symbolTriangle, 40)(),
  d3.symbol(d3.symbolTriangle, 40)(),
  d3.symbol(d3.symbolSquare, 40)()
];
const markerTurn = ["", "", "", " rotate(180)", " rotate(45)"];

// outer figure frame
svg.append("path")
  .attr("d", "M2.5,770 V17.5 A8,8 0 0 1 10.5,9.5 H1279.5 A8,8 0 0 1 1287.5,17.5 V770")
  .attr("fill", "none").attr("stroke", "#8c8c8c").attr("stroke-width", 1.5);

const problems = [];
function ratesFor(low, coarse, fine, n) {
  if (n === low.length + coarse.length) return low.concat(coarse);
  if (n === low.length + fine.length) return low.concat(fine);
  return null;
}

const pointLayer = svg.append("g");
concentrations.forEach((conc, ci) => {
  fieldStrengths.forEach((field, fi) => {
    const pts = [];
    if (earlyReadings[ci]) earlyReadings[ci][fi].forEach(([sr, eta]) => pts.push([sr, eta]));
    const up = rampsUp[ci][fi], down = rampsDown[ci][fi];
    const upRates = ratesFor(lowRateUp[fi], highRateUpCoarse[fi], highRateUpFine[fi], up.length);
    const downRates = ratesFor(lowRateDown[fi], highRateDownCoarse[fi], highRateDownFine[fi], down.length);
    [[up, upRates], [down, downRates]].forEach(([ramp, rates], ri) => {
      if (!rates) { problems.push(`${conc} ${field} ramp ${ri}: ${ramp.length}`); return; }
      ramp.forEach((eta, k) => { if (eta !== null) pts.push([rates[k], eta]); });
    });
    pointLayer.append("g")
      .attr("fill", fieldColors[fi])
      .selectAll("path")
      .data(pts)
      .join("path")
      .attr("d", plotMarkers[ci])
      .attr("transform", d => `translate(${x(d[0]).toFixed(2)},${y(d[1] / 1000).toFixed(2)})${markerTurn[ci]}`);
  });
});

// axes with inward ticks on all four sides
function styleAxis(g) {
  g.select(".domain").remove();
  g.attr("font-family", plotFont).attr("font-size", 16).attr("color", "#000");
  g.selectAll(".tick line").attr("stroke-width", 1);
  g.selectAll("text").attr("fill", "#1a1a1a").attr("letter-spacing", "0.8px");
}
svg.append("g").attr("transform", `translate(0,${y(0.025)})`)
  .call(d3.axisBottom(x).tickValues(xTicks).tickFormat((d, i) => xTickLabels[i]).tickSize(-7).tickSizeOuter(0))
  .call(styleAxis)
  .call(g => g.selectAll("text").attr("y", 26).attr("dy", null));
svg.append("g").attr("transform", `translate(0,${y(0.3)})`)
  .call(d3.axisTop(x).tickValues(xTicks).tickFormat("").tickSize(-7).tickSizeOuter(0))
  .call(styleAxis);
svg.append("g").attr("transform", `translate(${x(0)},0)`)
  .call(d3.axisLeft(y).tickValues(yTicks).tickFormat((d, i) => yTickLabels[i]).tickSize(-7).tickPadding(11).tickSizeOuter(0))
  .call(styleAxis)
  .call(g => g.selectAll("text").attr("dy", "0.36em"));
svg.append("g").attr("transform", `translate(${x(1000)},0)`)
  .call(d3.axisRight(y).tickValues(yTicks).tickFormat("").tickSize(-7).tickSizeOuter(0))
  .call(styleAxis);

svg.append("rect")
  .attr("x", x(0)).attr("y", y(0.3))
  .attr("width", x(1000) - x(0)).attr("height", y(0.025) - y(0.3))
  .attr("fill", "none").attr("stroke", "#000").attr("stroke-width", 1.3);

// axis titles
const xTitle = svg.append("text").attr("class", "plotfont")
  .attr("x", 835).attr("y", 662).attr("text-anchor", "middle")
  .attr("font-size", 16).attr("letter-spacing", "0.9px");
xTitle.append("tspan").text("shear rate [s");
xTitle.append("tspan").attr("dy", -7).attr("font-size", 12).text("-1");
xTitle.append("tspan").attr("dy", 7).text("]");

svg.append("text").attr("class", "plotfont")
  .attr("transform", "translate(524,322) rotate(-90)")
  .attr("text-anchor", "middle").attr("font-size", 16).attr("letter-spacing", "0.9px")
  .text("η [Pas]");

// legend
const legend = svg.append("g");
concentrations.forEach((conc, ci) => {
  fieldStrengths.forEach((field, fi) => {
    const row = ci * fieldStrengths.length + fi;
    const base = 51 + row * 18.625;
    const t = legend.append("text").attr("class", "plotfont")
      .attr("x", 445).attr("y", base).attr("text-anchor", "end")
      .attr("font-size", 16).attr("letter-spacing", "1.2px");
    t.append("tspan").text(`${conc} wt. MgAl`);
    t.append("tspan").attr("dy", 5).attr("font-size", 12.5).text("2");
    t.append("tspan").attr("dy", -5).text("O");
    t.append("tspan").attr("dy", 5).attr("font-size", 12.5).text("4");
    t.append("tspan").attr("dy", -5).text(` - ${field}`);
    legend.append("path")
      .attr("d", keyMarkers[ci])
      .attr("fill", fieldColors[fi])
      .attr("transform", `translate(483.5,${base - 4.5})${markerTurn[ci]}`);
  });
});

// caption
const cap1 = svg.append("text").attr("class", "caption")
  .attr("x", 17).attr("y", 700).attr("font-size", 18).attr("font-weight", "bold")
  .attr("textLength", 1199).attr("lengthAdjust", "spacingAndGlyphs");
cap1.append("tspan").text("Figure 9 Comparison of thixotropic properties of MgAl");
cap1.append("tspan").attr("dy", 4).attr("font-size", 13).text("2");
cap1.append("tspan").attr("dy", -4).text("O");
cap1.append("tspan").attr("dy", 4).attr("font-size", 13).text("4");
cap1.append("tspan").attr("dy", -4).text("-DG nanofluids at various intensities of electric field in temperature");

svg.append("text")
  .attr("x", 17).attr("y", 723).attr("font-size", 17).attr("font-weight", "bold")
  .attr("font-family", '"DejaVu Serif", "Liberation Serif", serif').attr("fill", "#231f20")
  .attr("textLength", 173).attr("lengthAdjust", "spacingAndGlyphs")
  .text("(22.5 ± 1.5)°C.");
svg.append("text").attr("class", "caption")
  .attr("x", 196).attr("y", 723).attr("font-size", 17)
  .attr("textLength", 1066).attr("lengthAdjust", "spacingAndGlyphs")
  .text("Different types of points correspond to different mass concentrations of nanoparticles in nanofluid; colors indicate different");
svg.append("text").attr("class", "caption")
  .attr("x", 17).attr("y", 747).attr("font-size", 17)
  .attr("textLength", 226).attr("lengthAdjust", "spacingAndGlyphs")
  .text("intensities of electric field.");

if (problems.length) throw new Error("Length mismatch: " + problems.join("; "));
</script>
</body>
</html>
